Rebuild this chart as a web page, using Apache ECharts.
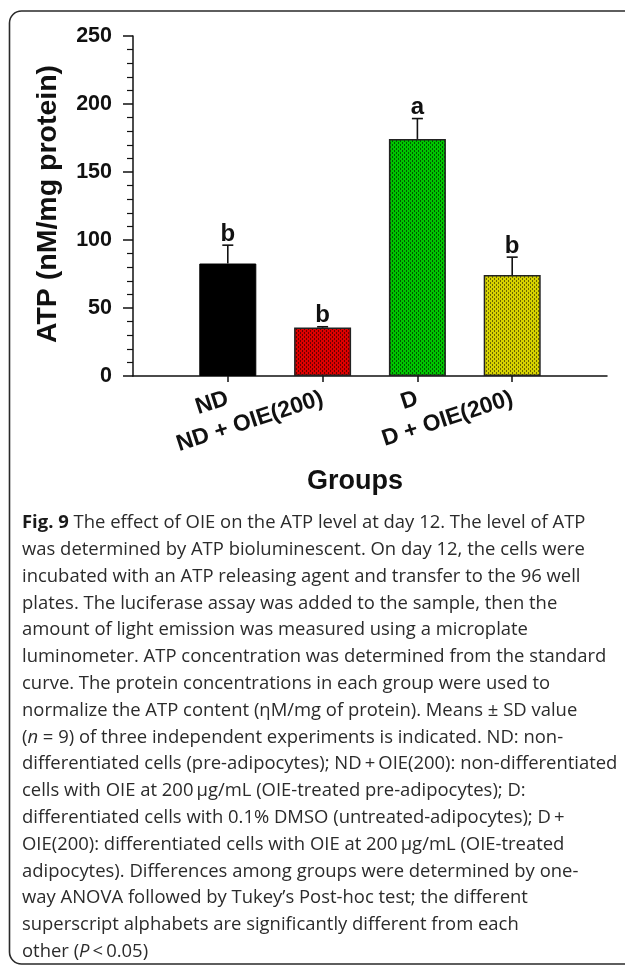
<!DOCTYPE html>
<html>
<head>
<meta charset="utf-8">
<script src="https://cdn.jsdelivr.net/npm/echarts@6/dist/echarts.min.js"></script>
<style>
html,body{margin:0;padding:0;background:#fff;}
#chart{width:625px;height:966px;}
</style>
</head>
<body>
<div id="chart"></div>
<script>
// ---- data ----
const categories = ['', 'ND', 'ND + OIE(200)', 'D', 'D + OIE(200)', ''];
const means = [null, 82.7, 35.6, 174.3, 74.2, null];
const sds = [null, 13.5, 0.6, 15.0, 13.2, null];
const letters = ['', 'b', 'b', 'a', 'b', ''];
const yMin = 0, yMax = 250, yInterval = 50;
const yTitle = 'ATP (nM/mg protein)';
const xTitle = 'Groups';
const captionLines = [
  '{b|Fig. 9} The effect of OIE on the ATP level at day 12. The level of ATP',
  'was determined by ATP bioluminescent. On day 12, the cells were',
  'incubated with an ATP releasing agent and transfer to the 96 well',
  'plates. The luciferase assay was added to the sample, then the',
  'amount of light emission was measured using a microplate',
  'luminometer. ATP concentration was determined from the standard',
  'curve. The protein concentrations in each group were used to',
  'normalize the ATP content (\u03b7M/mg of protein). Means \u00b1 SD value',
  '({i|n} = 9) of three independent experiments is indicated. ND: non-',
  'differentiated cells (pre-adipocytes); ND\u2009+\u2009OIE(200): non-differentiated',
  'cells with OIE at 200\u2009\u03bcg/mL (OIE-treated pre-adipocytes); D:',
  'differentiated cells with 0.1% DMSO (untreated-adipocytes); D\u2009+',
  'OIE(200): differentiated cells with OIE at 200\u2009\u03bcg/mL (OIE-treated',
  'adipocytes). Differences among groups were determined by one-',
  'way ANOVA followed by Tukey\u2019s Post-hoc test; the different',
  'superscript alphabets are significantly different from each',
  'other ({i|P}\u2009<\u20090.05)'
];

// ---- styles ----
function makePattern(base, dot) {
  const c = document.createElement('canvas');
  c.width = 4; c.height = 4;
  const ctx = c.getContext('2d');
  ctx.fillStyle = base; ctx.fillRect(0, 0, 4, 4);
  ctx.fillStyle = dot;
  ctx.fillRect(0, 0, 1, 2);
  ctx.fillRect(2, 2, 1, 2);
  return { image: c, repeat: 'repeat' };
}
const barStyles = [
  null,
  { color: '#000000', borderColor: '#000', borderWidth: 1 },
  { color: makePattern('#dd0000', '#6a0000'), borderColor: '#222', borderWidth: 1.5 },
  { color: makePattern('#00c400', '#005a00'), borderColor: '#222', borderWidth: 1.5 },
  { color: makePattern('#d6d200', '#6a6600'), borderColor: '#222', borderWidth: 1.5 },
  null
];
const AX = 'Arial, "Liberation Sans", sans-serif';
const CAP = '"Open Sans", sans-serif';
const CAPSIZE = 18.45;

const barData = means.map((v, i) => v == null ? null : { value: v, itemStyle: barStyles[i] });
const errData = [];
means.forEach((v, i) => { if (v != null) errData.push([i, v, sds[i]]); });

const chart = echarts.init(document.getElementById('chart'), null, { renderer: 'canvas' });

const graphics = [
  {
    type: 'rect', z: 0, silent: true,
    shape: { x: 9.5, y: 11, width: 660, height: 953, r: 12 },
    style: { fill: 'none', stroke: '#2a2a2a', lineWidth: 1.6 }
  },
  {
    type: 'text', x: 355, y: 482, z: 10,
    style: { text: xTitle, fontFamily: AX, fontWeight: 'bold', fontSize: 27, fill: '#111', align: 'center', verticalAlign: 'middle' }
  },
  {
    type: 'text', x: 48, y: 204, z: 10, rotation: Math.PI / 2,
    style: { text: yTitle, fontFamily: AX, fontWeight: 'bold', fontSize: 28.5, fill: '#111', align: 'center', verticalAlign: 'middle' }
  }
];
captionLines.forEach((line, i) => {
  graphics.push({
    type: 'text', z: 10, x: 22, y: 523 + i * 26.8,
    style: {
      text: line, fontFamily: CAP, fontSize: CAPSIZE, fill: '#2b2b2b',
      verticalAlign: 'middle', align: 'left',
      rich: {
        b: { fontFamily: CAP, fontSize: CAPSIZE, fontWeight: 'bold', fill: '#1a1a1a' },
        i: { fontFamily: CAP, fontSize: CAPSIZE, fontStyle: 'italic', fill: '#2b2b2b' }
      }
    }
  });
});

chart.setOption({
  animation: false,
  backgroundColor: '#fff',
  grid: { left: 133, right: 18, top: 36, bottom: 590, containLabel: false },
  xAxis: {
    type: 'category',
    data: categories,
    boundaryGap: false,
    axisLine: { lineStyle: { color: '#111', width: 1.5 } },
    axisTick: { length: 6, lineStyle: { color: '#111', width: 1.5 }, interval: (i) => i > 0 && i < categories.length - 1 },
    axisLabel: {
      interval: 0, rotate: 18, margin: 22,
      fontFamily: AX, fontWeight: 'bold', fontSize: 23, color: '#111'
    },
    splitLine: { show: false }
  },
  yAxis: {
    type: 'value', min: yMin, max: yMax, interval: yInterval,
    axisLine: { show: true, lineStyle: { color: '#111', width: 1.5 } },
    axisTick: { show: true, length: 10, lineStyle: { color: '#111', width: 1.5 } },
    minorTick: { show: true, splitNumber: 5, length: 6, lineStyle: { color: '#111', width: 1.2 } },
    axisLabel: { margin: 21, fontFamily: AX, fontWeight: 'bold', fontSize: 21.5, color: '#111' },
    splitLine: { show: false }
  },
  series: [
    {
      type: 'bar', data: barData, barWidth: 57, z: 2
    },
    {
      type: 'custom', z: 3, data: errData,
      encode: { x: 0, y: 1 },
      renderItem: function (params, api) {
        const xi = api.value(0), m = api.value(1), sd = api.value(2);
        const p0 = api.coord([xi, m]);
        const p1 = api.coord([xi, m + sd]);
        return {
          type: 'group',
          children: [
            { type: 'line', shape: { x1: p0[0], y1: p0[1], x2: p1[0], y2: p1[1] }, style: { stroke: '#111', lineWidth: 1.6 } },
            { type: 'line', shape: { x1: p1[0] - 5.5, y1: p1[1], x2: p1[0] + 5.5, y2: p1[1] }, style: { stroke: '#111', lineWidth: 1.6 } },
            { type: 'text', style: { text: letters[xi], x: p1[0], y: p1[1] + 1, align: 'center', verticalAlign: 'bottom', fontFamily: AX, fontWeight: 'bold', fontSize: 24, fill: '#111' } }
          ]
        };
      }
    }
  ],
  graphic: graphics
});
</script>
</body>
</html>
